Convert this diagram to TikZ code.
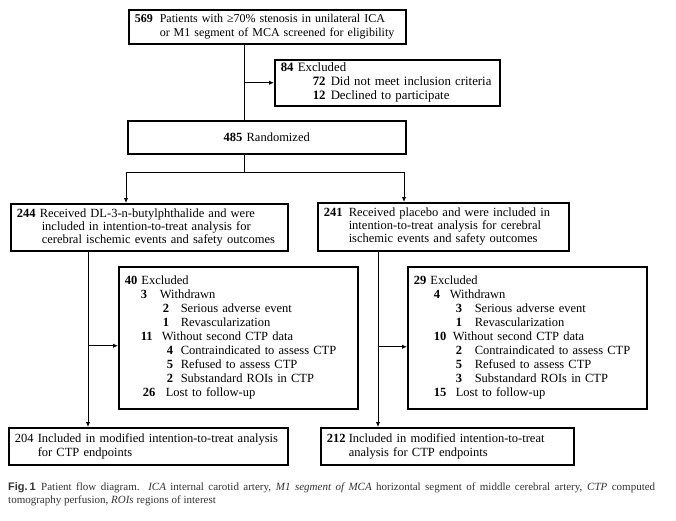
\documentclass[tikz,border=0pt]{standalone}
\usepackage{fontspec}
\setmainfont{Liberation Serif}
\newfontfamily\capfont{Liberation Sans}
\usetikzlibrary{arrows.meta,calc,positioning}

% one indented row of an exclusion list: indent, number width, number, text
\newcommand{\exrow}[4]{\hspace*{#1}\makebox[#2][l]{\textbf{#3}}#4}

\begin{document}
\begin{tikzpicture}[x=1pt,y=-1pt,
  box/.style={draw,line width=1.5pt,anchor=north west,align=left,
    inner xsep=6pt,inner ysep=0pt,font=\fontsize{12.5}{14}\selectfont},
  link/.style={line width=1pt},
  arr/.style={link,-{Latex[length=5pt,width=4.5pt]}}]
  \useasboundingbox (0,0) rectangle (676,520);

  % boxes
  \node[box,text width=265pt,minimum height=34pt,font=\fontsize{12}{14}\selectfont] (screen) at (128,9)
    {\mbox{\makebox[25pt][l]{\textbf{569}}Patients with ≥70\% stenosis in unilateral ICA}\\
     \mbox{\hspace*{25pt}or M1 segment of MCA screened for eligibility}};
  \node[box,text width=213pt,minimum height=46pt,font=\fontsize{12.8}{14}\selectfont] (excl) at (274,59)
    {\textbf{84} Excluded\\
     \exrow{32pt}{18pt}{72}{Did not meet inclusion criteria}\\
     \exrow{32pt}{18pt}{12}{Declined to participate}};
  \node[box,text width=266pt,minimum height=33pt,align=center] (rand) at (127,120)
    {\textbf{485} Randomized};
  \node[box,text width=265pt,minimum height=47pt,font=\fontsize{12.5}{13}\selectfont] (armA) at (10,203)
    {\makebox[23pt][l]{\textbf{244}}Received DL-3-n-butylphthalide and were\\
     \hspace*{25pt}included in intention-to-treat analysis for\\
     \hspace*{25pt}cerebral ischemic events and safety outcomes};
  \node[box,text width=239pt,minimum height=48pt,font=\fontsize{12.5}{13}\selectfont] (armB) at (317,202)
    {\makebox[25pt][l]{\textbf{241}}Received placebo and were included in\\
     \hspace*{25pt}intention-to-treat analysis for cerebral\\
     \hspace*{25pt}ischemic events and safety outcomes};
  \node[box,text width=227pt,minimum height=142pt] (exclA) at (118,266)
    {\textbf{40} Excluded\\
     \exrow{16pt}{19pt}{3}{Withdrawn}\\
     \exrow{38pt}{18pt}{2}{Serious adverse event}\\
     \exrow{38pt}{18pt}{1}{Revascularization}\\
     \exrow{16pt}{21pt}{11}{Without second CTP data}\\
     \exrow{42pt}{14pt}{4}{Contraindicated to assess CTP}\\
     \exrow{42pt}{14pt}{5}{Refused to assess CTP}\\
     \exrow{42pt}{14pt}{2}{Substandard ROIs in CTP}\\
     \exrow{18pt}{23pt}{26}{Lost to follow-up}};
  \node[box,text width=227pt,minimum height=142pt] (exclB) at (407,266)
    {\textbf{29} Excluded\\
     \exrow{20pt}{16pt}{4}{Withdrawn}\\
     \exrow{42pt}{19pt}{3}{Serious adverse event}\\
     \exrow{42pt}{19pt}{1}{Revascularization}\\
     \exrow{20pt}{19pt}{10}{Without second CTP data}\\
     \exrow{42pt}{19pt}{2}{Contraindicated to assess CTP}\\
     \exrow{42pt}{19pt}{5}{Refused to assess CTP}\\
     \exrow{42pt}{19pt}{3}{Substandard ROIs in CTP}\\
     \exrow{20pt}{22pt}{15}{Lost to follow-up}};
  \node[box,text width=267pt,minimum height=37pt] (ittA) at (8,427)
    {\makebox[23pt][l]{204}Included in modified intention-to-treat analysis\\
     \hspace*{23pt}for CTP endpoints};
  \node[box,text width=241pt,minimum height=37pt] (ittB) at (320,427)
    {\makebox[22pt][l]{\textbf{212}}Included in modified intention-to-treat\\
     \hspace*{22pt}analysis for CTP endpoints};

  % caption
  \node[anchor=north west,text width=647pt,align=justify,inner sep=0pt,
    text=black!80,font=\fontsize{11}{13}\selectfont] (caption) at (8,482)
    {{\capfont\bfseries Fig.\,1}\enspace Patient flow diagram. \textit{ICA} internal carotid artery,
     \textit{M1 segment of MCA} horizontal segment of middle cerebral artery, \textit{CTP} computed\linebreak
     tomography perfusion, \textit{ROIs} regions of interest};

  % connectors
  \coordinate (trunk) at (244,0);
  \coordinate (split) at (244,172);
  \coordinate (leftin) at (126,0);
  \coordinate (rightin) at (404,0);
  \coordinate (leftdown) at (88,0);
  \coordinate (rightdown) at (378,0);
  \coordinate (exclAin) at ([yshift=-8pt]exclA.west);
  \coordinate (exclBin) at ([yshift=-9pt]exclB.west);

  \draw[link] (screen.south -| trunk) -- (rand.north -| trunk);
  \draw[arr] (trunk |- excl.west) -- (excl.west);
  \draw[link] (rand.south -| trunk) -- (split);
  \draw[arr] (split) -| (armA.north -| leftin);
  \draw[arr] (split) -| (armB.north -| rightin);
  \draw[arr] (armA.south -| leftdown) -- (ittA.north -| leftdown);
  \draw[arr] (leftdown |- exclAin) -- (exclAin);
  \draw[arr] (armB.south -| rightdown) -- (ittB.north -| rightdown);
  \draw[arr] (rightdown |- exclBin) -- (exclBin);
\end{tikzpicture}
\end{document}
